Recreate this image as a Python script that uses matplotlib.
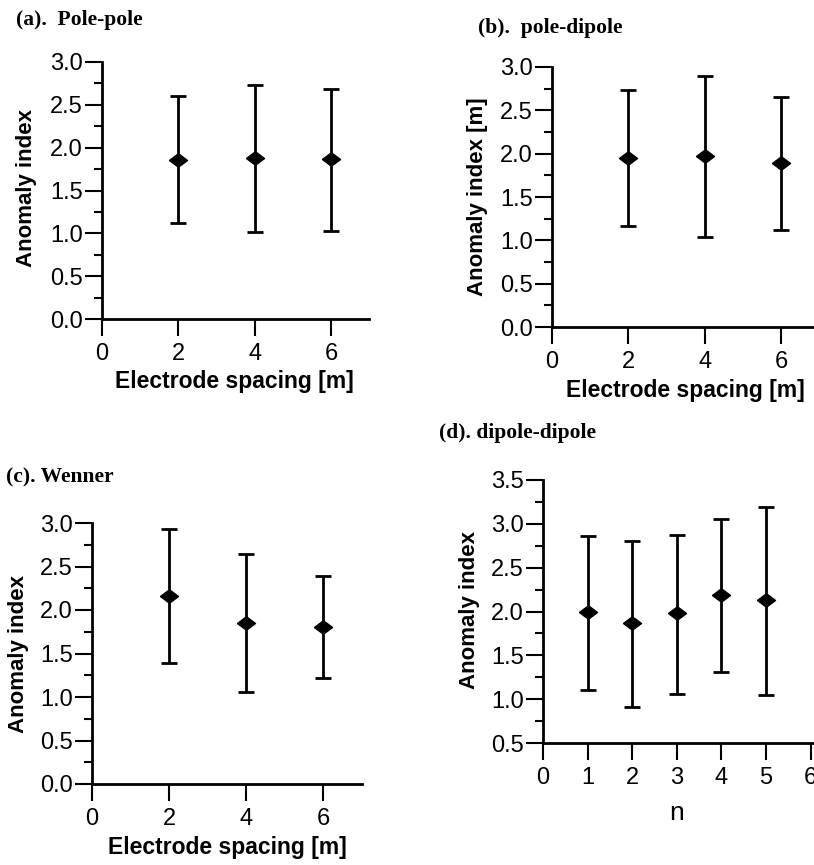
import matplotlib
matplotlib.use("Agg")
import matplotlib.pyplot as plt
from matplotlib.ticker import MultipleLocator
import numpy as np

# ---- data ----
spacing = [2, 4, 6]
a_mean = [1.86, 1.88, 1.87]
a_upper = [2.60, 2.73, 2.69]
a_lower = [1.12, 1.02, 1.03]

b_mean = [1.95, 1.97, 1.89]
b_upper = [2.74, 2.90, 2.65]
b_lower = [1.16, 1.04, 1.12]

c_mean = [2.16, 1.85, 1.81]
c_upper = [2.93, 2.64, 2.39]
c_lower = [1.39, 1.06, 1.22]

n_vals = [1, 2, 3, 4, 5]
d_mean = [1.99, 1.87, 1.98, 2.19, 2.13]
d_upper = [2.86, 2.80, 2.87, 3.05, 3.19]
d_lower = [1.11, 0.91, 1.06, 1.31, 1.05]

titles = ["(a).  Pole-pole", "(b).  pole-dipole", "(c). Wenner", "(d). dipole-dipole"]
ylabels = ["Anomaly index", "Anomaly index [m]", "Anomaly index", "Anomaly index"]
xlabels = ["Electrode spacing [m]", "Electrode spacing [m]", "Electrode spacing [m]", "n"]

W, H = 814, 865
fig = plt.figure(figsize=(W / 100, H / 100), dpi=100)

def rect(left, top, bottom, right):
    return [left / W, 1 - bottom / H, (right - left) / W, (bottom - top) / H]

def fx(x):
    return x / W

def fy(y):
    return 1 - y / H

diamond = [(-1, 0), (0, 0.75), (1, 0), (0, -0.75), (-1, 0)]

TICKFONT = "Liberation Sans"

def setup(ax, xs, mean, upper, lower, ylim, xlim, xticks):
    mean = np.array(mean)
    yerr = [mean - np.array(lower), np.array(upper) - mean]
    ax.errorbar(xs, mean, yerr=yerr, fmt="none", ecolor="black",
                elinewidth=2.0, capsize=6, capthick=2.0)
    ax.plot(xs, mean, linestyle="none", marker=diamond, markersize=13,
            color="black", zorder=5)
    ax.set_ylim(*ylim)
    ax.set_xlim(*xlim)
    ax.set_xticks(xticks)
    ax.yaxis.set_major_locator(MultipleLocator(0.5))
    ax.yaxis.set_minor_locator(MultipleLocator(0.25))
    ax.yaxis.set_major_formatter(matplotlib.ticker.FormatStrFormatter("%.1f"))
    for s in ["top", "right"]:
        ax.spines[s].set_visible(False)
    for s in ["left", "bottom"]:
        ax.spines[s].set_linewidth(2.0)
    ax.tick_params(axis="both", which="major", direction="out", length=12,
                   width=1.5, labelsize=17, color="black")
    ax.tick_params(axis="y", which="minor", direction="out", length=6, width=1.5)
    ax.tick_params(axis="y", which="major", pad=2)
    ax.tick_params(axis="x", which="major", pad=5)
    for lab in ax.get_xticklabels() + ax.get_yticklabels():
        lab.set_fontfamily(TICKFONT)
    ax.patch.set_alpha(0)

# panel axes (pixel layout)
axA = fig.add_axes(rect(102, 62, 319, 102 + 7.0 * 38.2))
axB = fig.add_axes(rect(552, 67, 327, 552 + 7.1 * 38.2))
axC = fig.add_axes(rect(92, 523, 784, 92 + 7.0 * 38.5))
axD = fig.add_axes(rect(543, 480, 743, 543 + 6.5 * 44.6))

setup(axA, spacing, a_mean, a_upper, a_lower, (0, 3.0), (0, 7.0), [0, 2, 4, 6])
setup(axB, spacing, b_mean, b_upper, b_lower, (0, 3.0), (0, 7.1), [0, 2, 4, 6])
setup(axC, spacing, c_mean, c_upper, c_lower, (0, 3.0), (0, 7.0), [0, 2, 4, 6])
setup(axD, n_vals, d_mean, d_upper, d_lower, (0.5, 3.5), (0, 6.5), [0, 1, 2, 3, 4, 5, 6])

LABFONT = dict(family="Liberation Sans", weight="bold", fontsize=16.5)
YLABFONT = dict(family="Liberation Sans", weight="bold", fontsize=16)
TITFONT = dict(family="Liberation Serif", weight="bold", fontsize=15.5)

# titles (left, baseline)
fig.text(fx(16), fy(25), titles[0], ha="left", va="baseline", **TITFONT)
fig.text(fx(478), fy(33), titles[1], ha="left", va="baseline", **TITFONT)
fig.text(fx(6), fy(482), titles[2], ha="left", va="baseline", **TITFONT)
fig.text(fx(439), fy(438), titles[3], ha="left", va="baseline", **TITFONT)

# y labels
fig.text(fx(27), fy(188), ylabels[0], rotation=90, ha="center", va="center", **YLABFONT)
fig.text(fx(478), fy(197), ylabels[1], rotation=90, ha="center", va="center", **YLABFONT)
fig.text(fx(19), fy(654), ylabels[2], rotation=90, ha="center", va="center", **YLABFONT)
fig.text(fx(470), fy(610), ylabels[3], rotation=90, ha="center", va="center", **YLABFONT)

# x labels
fig.text(fx(234), fy(388), xlabels[0], ha="center", va="baseline", **LABFONT)
fig.text(fx(685), fy(397), xlabels[1], ha="center", va="baseline", **LABFONT)
fig.text(fx(227), fy(854), xlabels[2], ha="center", va="baseline", **LABFONT)
fig.text(fx(677), fy(820), xlabels[3], ha="center", va="baseline",
         family="Liberation Sans", fontsize=19)

fig.savefig("out.png", dpi=100)
